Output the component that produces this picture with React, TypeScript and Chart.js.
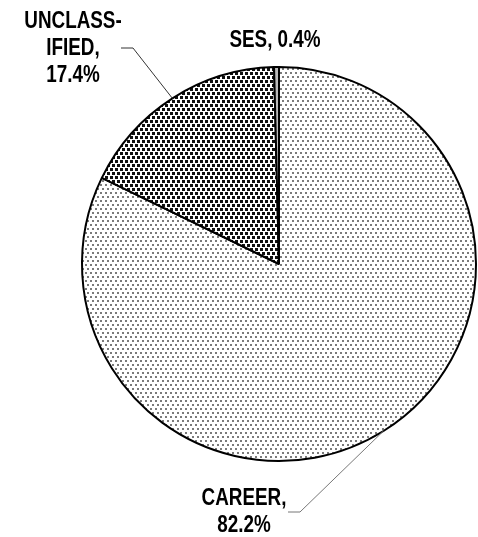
import React, { useEffect, useRef } from "react";
import { Chart, registerables } from "chart.js";

Chart.register(...registerables);

const categories = ["CAREER", "UNCLASSIFIED", "SES"];
const values = [82.2, 17.4, 0.4];
const labelLines = [["CAREER,", "82.2%"], ["UNCLASS-", "IFIED,", "17.4%"], ["SES, 0.4%"]];

function makePattern(
  size: [number, number],
  dots: [number, number][],
  dotSize: number,
  color: string,
  bg: string
): CanvasPattern | string {
  const c = document.createElement("canvas");
  c.width = size[0];
  c.height = size[1];
  const g = c.getContext("2d");
  if (!g) return bg;
  g.fillStyle = bg;
  g.fillRect(0, 0, c.width, c.height);
  g.fillStyle = color;
  for (const [x, y] of dots) {
    g.fillRect(x, y, dotSize, dotSize);
  }
  const p = g.createPattern(c, "repeat");
  return p || bg;
}

// label placement (style): text center x, first baseline, line height, leader line points
const labelLayout = [
  { cx: 244, y: 505, lh: 27, elbow: [300, 512], end: [288, 512], lineColor: "#777" },
  { cx: 73, y: 28, lh: 27, elbow: [133, 48], end: [121, 48], lineColor: "#333" },
  { cx: 275, y: 47, lh: 27, elbow: null, end: null, lineColor: "#333" },
];

const labelPlugin = {
  id: "pieLabels",
  afterDatasetsDraw(chart: any) {
    const ctx: CanvasRenderingContext2D = chart.ctx;
    const meta = chart.getDatasetMeta(0);
    meta.data.forEach((arc: any, i: number) => {
      const lay = labelLayout[i];
      const p = arc.getProps(["x", "y", "startAngle", "endAngle", "outerRadius"], true);
      const mid = (p.startAngle + p.endAngle) / 2;
      const ex = p.x + Math.cos(mid) * p.outerRadius;
      const ey = p.y + Math.sin(mid) * p.outerRadius;
      ctx.save();
      if (lay.elbow && lay.end) {
        ctx.strokeStyle = lay.lineColor;
        ctx.lineWidth = 1;
        ctx.beginPath();
        ctx.moveTo(ex, ey);
        ctx.lineTo(lay.elbow[0], lay.elbow[1]);
        ctx.lineTo(lay.end[0], lay.end[1]);
        ctx.stroke();
      }
      ctx.fillStyle = "#000";
      ctx.font = "bold 23px 'Liberation Sans', Arial, sans-serif";
      ctx.textAlign = "center";
      ctx.textBaseline = "alphabetic";
      labelLines[i].forEach((line, j) => {
        ctx.save();
        ctx.translate(lay.cx, lay.y + j * lay.lh);
        ctx.scale(0.82, 1);
        ctx.fillText(line, 0, 0);
        ctx.restore();
      });
      ctx.restore();
    });
  },
};

export default function App() {
  const ref = useRef<HTMLCanvasElement | null>(null);
  useEffect(() => {
    if (!ref.current) return;
    const light = makePattern([5, 8], [[0, 0], [2, 4]], 2, "#7a7a7a", "#ffffff");
    const dark = makePattern([5, 8], [[0, 0], [2, 4]], 3, "#111111", "#ffffff");
    const chart = new Chart(ref.current, {
      type: "pie",
      data: {
        labels: categories,
        datasets: [
          {
            data: values,
            backgroundColor: [light as any, dark as any, "#bbbbbb"],
            borderColor: "#000",
            borderWidth: 2,
            hoverOffset: 0,
          },
        ],
      },
      options: {
        animation: false,
        responsive: false,
        events: [],
        layout: { padding: { left: 81, right: 1, top: 66, bottom: 75 } },
        plugins: {
          legend: { display: false },
          tooltip: { enabled: false },
        },
      },
      plugins: [labelPlugin],
    });
    return () => chart.destroy();
  }, []);
  return (
    <div style={{ position: "fixed", left: 0, top: 0, width: 478, height: 537, background: "#fff" }}>
      <canvas ref={ref} width={478} height={537} />
    </div>
  );
}
